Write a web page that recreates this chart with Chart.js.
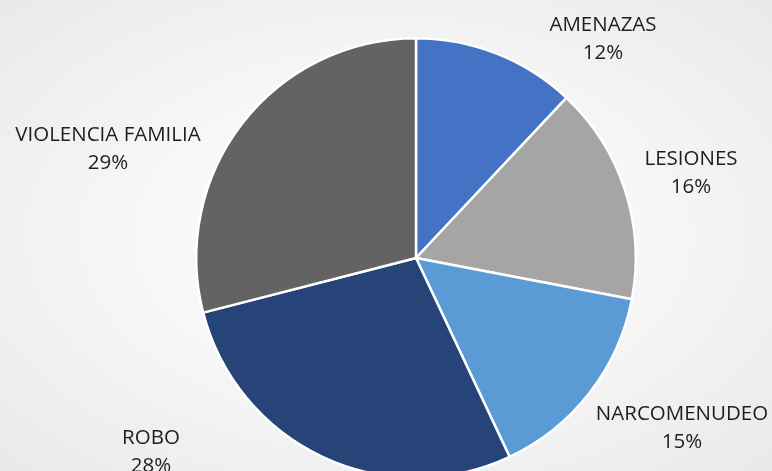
<!DOCTYPE html>
<html>
<head>
<meta charset="utf-8">
<script src="https://cdn.jsdelivr.net/npm/chart.js@4.4.0/dist/chart.umd.min.js"></script>
<style>
  html, body { margin: 0; padding: 0; width: 772px; height: 471px; overflow: hidden; }
  body { background: radial-gradient(ellipse at 50% 50%, #ffffff 0%, #f7f7f7 45%, #e9e9e9 100%); }
  #wrap { position: relative; width: 772px; height: 500px; }
</style>
</head>
<body>
<div id="wrap"><canvas id="pieChart"></canvas></div>
<script>
const categories = ["AMENAZAS", "LESIONES", "NARCOMENUDEO", "ROBO", "VIOLENCIA FAMILIA"];
const shares = [12, 16, 15, 28, 29];
const colors = ["#4472C4", "#A5A5A5", "#5B9BD5", "#264478", "#636363"];

// label offsets from pie centre (Excel "best fit" placement)
const labelOffsets = [[187, -219], [275, -85], [266, 170], [-265, 194], [-308, -109]];

const outsideLabels = {
  id: "outsideLabels",
  afterDatasetsDraw(chart) {
    const ctx = chart.ctx;
    const meta = chart.getDatasetMeta(0);
    ctx.save();
    ctx.font = "20.5px 'Open Sans'";
    ctx.fillStyle = "#1e1e1e";
    ctx.textAlign = "center";
    ctx.textBaseline = "middle";
    meta.data.forEach((arc, i) => {
      const x = arc.x + labelOffsets[i][0];
      const y = arc.y + labelOffsets[i][1];
      ctx.fillText(categories[i], x, y - 14);
      ctx.fillText(shares[i] + "%", x, y + 14);
    });
    ctx.restore();
  }
};

const ctx = document.getElementById("pieChart").getContext("2d");
new Chart(ctx, {
  type: "pie",
  data: {
    labels: categories,
    datasets: [{
      data: shares,
      backgroundColor: colors,
      borderColor: "#ffffff",
      borderWidth: 2.5
    }]
  },
  options: {
    responsive: true,
    maintainAspectRatio: false,
    animation: false,
    layout: { padding: { left: 195, right: 135, top: 37, bottom: 21 } },
    plugins: {
      legend: { display: false },
      tooltip: { enabled: false }
    }
  },
  plugins: [outsideLabels]
});
</script>
</body>
</html>
